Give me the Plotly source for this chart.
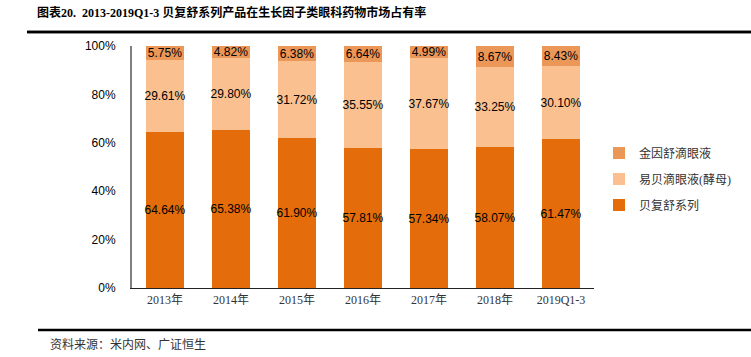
import plotly.graph_objects as go

categories = ["2013年", "2014年", "2015年", "2016年", "2017年", "2018年", "2019Q1-3"]
beifushu = [64.64, 65.38, 61.90, 57.81, 57.34, 58.07, 61.47]
yibei = [29.61, 29.80, 31.72, 35.55, 37.67, 33.25, 30.10]
jinyinshu = [5.75, 4.82, 6.38, 6.64, 4.99, 8.67, 8.43]
yticks = [0, 20, 40, 60, 80, 100]
ytick_labels = ["0%", "20%", "40%", "60%", "80%", "100%"]

W, H = 751, 357


def px(x):
    return x / W


def py(y):
    return 1 - y / H


series = [
    ("贝复舒系列", beifushu, "#E46C0A"),
    ("易贝滴眼液(酵母)", yibei, "#FAC090"),
    ("金因舒滴眼液", jinyinshu, "#EB9758"),
]

fig = go.Figure()
for i, (name, vals, color) in enumerate(series):
    fig.add_trace(go.Bar(
        x=categories, y=vals, name=name,
        marker=dict(color=color, line=dict(width=0)),
        text=[f"{v:.2f}%" for v in vals],
        textposition="inside", insidetextanchor="middle",
        textangle=0, constraintext="none",
        textfont=dict(family="Liberation Sans, Noto Sans CJK SC", size=12, color="#000000"),
        legendgroup=f"g{i}", legendrank=100 - i,
    ))

fig.update_layout(
    barmode="stack",
    bargap=0.424,
    width=W, height=H,
    margin=dict(l=0, r=0, t=0, b=0, pad=0, autoexpand=False),
    plot_bgcolor="white", paper_bgcolor="white",
    showlegend=True,
    legend=dict(
        x=px(599), xanchor="left", y=py(179), yanchor="middle",
        traceorder="grouped", tracegroupgap=7,
        font=dict(family="Liberation Serif, Noto Sans CJK SC", size=12, color="#333333"),
        itemwidth=30, bgcolor="rgba(0,0,0,0)",
    ),
    font=dict(family="Liberation Sans, Noto Sans CJK SC"),
)

fig.update_yaxes(
    domain=[py(288), py(46)],
    range=[0, 100], tickvals=yticks, ticktext=ytick_labels,
    showgrid=False, zeroline=False, automargin=False,
    showline=True, linecolor="#808080", linewidth=2,
    ticks="", ticklabelstandoff=12,
    tickfont=dict(family="Liberation Sans, Noto Sans CJK SC", size=12, color="#000000"),
)
fig.update_xaxes(
    domain=[px(132), px(594)],
    showgrid=False, showline=True, linecolor="#222222", linewidth=1, automargin=False,
    ticks="", ticklabelstandoff=1,
    tickfont=dict(family="Liberation Serif, Noto Sans CJK SC", size=12, color="#333333"),
)

# rules
TOP_RULE_Y, TOP_RULE_X0 = 32, 27
BOT_RULE_Y, BOT_RULE_X0 = 330, 38
fig.add_shape(type="line", xref="paper", yref="paper",
              x0=px(TOP_RULE_X0), x1=1, y0=py(TOP_RULE_Y), y1=py(TOP_RULE_Y),
              line=dict(color="#000000", width=2.5), layer="above")
fig.add_shape(type="line", xref="paper", yref="paper",
              x0=px(BOT_RULE_X0), x1=1, y0=py(BOT_RULE_Y), y1=py(BOT_RULE_Y),
              line=dict(color="#000000", width=2.5), layer="above")

# title
fig.add_annotation(
    xref="paper", yref="paper", x=px(35), y=py(13),
    xanchor="left", yanchor="middle", showarrow=False,
    text="<b>图表20.  2013-2019Q1-3 贝复舒系列产品在生长因子类眼科药物市场占有率</b>",
    font=dict(family="Liberation Serif, Noto Sans CJK SC", size=12, color="#000000"),
)
# source
fig.add_annotation(
    xref="paper", yref="paper", x=px(48), y=py(345),
    xanchor="left", yanchor="middle", showarrow=False,
    text="资料来源：米内网、广证恒生",
    font=dict(family="Liberation Serif, Noto Sans CJK SC", size=12, color="#333333"),
)

post = """
document.body.style.margin = '0px';
(function () {
  function addRule() {
    var gd = document.getElementById('{plot_id}');
    if (!gd) return false;
    var svgs = gd.querySelectorAll('svg.main-svg');
    if (!svgs.length) return false;
    var top = svgs[svgs.length - 1];
    if (top.querySelector('line.title-rule')) return true;
    var ln = document.createElementNS('http://www.w3.org/2000/svg', 'line');
    ln.setAttribute('class', 'title-rule');
    ln.setAttribute('x1', '%d'); ln.setAttribute('x2', '%d');
    ln.setAttribute('y1', '%d'); ln.setAttribute('y2', '%d');
    ln.setAttribute('stroke', '#000000');
    ln.setAttribute('stroke-width', '2.5');
    top.appendChild(ln);
    return true;
  }
  if (!addRule()) { setTimeout(addRule, 0); }
})();
""" % (TOP_RULE_X0, W, TOP_RULE_Y, TOP_RULE_Y)

fig.write_html("out.html", config={"displayModeBar": False}, post_script=post)
